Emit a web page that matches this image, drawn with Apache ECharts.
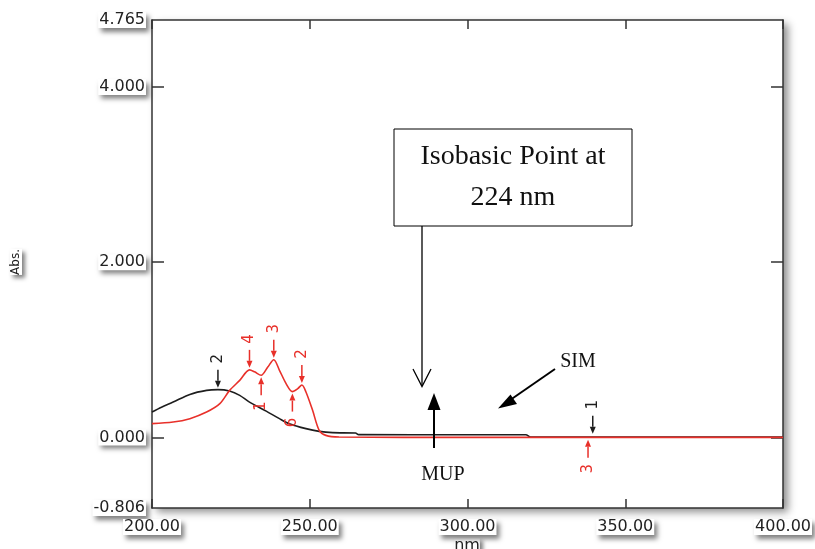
<!DOCTYPE html>
<html>
<head>
<meta charset="utf-8">
<script src="https://cdn.jsdelivr.net/npm/echarts@6.0.0/dist/echarts.min.js"></script>
<style>
  html, body { margin: 0; padding: 0; background: #fff; }
  #chart { width: 815px; height: 549px; }
</style>
</head>
<body>
<div id="chart"></div>
<script>
// black spectrum (nm, Abs)
const simNm = [200, 203, 206.7, 212, 217.3, 220.9, 224.6, 227.8, 230.9, 236.2, 240.4, 243.5, 248.8, 253, 257.2, 264.5, 265.5, 300, 318.5, 320, 360, 400]
const simAbs = [0.29, 0.345, 0.403, 0.491, 0.537, 0.545, 0.529, 0.48, 0.403, 0.30, 0.214, 0.157, 0.10, 0.069, 0.054, 0.05, 0.032, 0.03, 0.03, 0.004, 0.003, 0.003]

// red spectrum (nm, Abs)
const mupNm = [200, 206.7, 212, 217.3, 221.5, 224.6, 227.8, 230.9, 232.5, 234.6, 236.7, 238.6, 240.4, 242.5, 244.5, 246.2, 247.5, 248.8, 250.9, 253, 255.1, 259.3, 300, 400]
const mupAbs = [0.157, 0.175, 0.214, 0.289, 0.385, 0.537, 0.651, 0.771, 0.749, 0.709, 0.803, 0.886, 0.766, 0.614, 0.523, 0.557, 0.598, 0.518, 0.309, 0.08, 0.023, 0.004, 0.0, 0.0]

// peak pick markers: nm, Abs, number, side (-1 above, 1 below)
const simPeakNm = [220.9, 339.7]
const simPeakAbs = [0.545, 0.02]
const simPeakNo = [2, 1]
const simPeakSide = [-1, -1]

const mupPeakNm = [230.9, 234.6, 238.6, 244.5, 247.5, 338.2]
const mupPeakAbs = [0.771, 0.709, 0.886, 0.523, 0.598, -0.005]
const mupPeakNo = [4, 1, 3, 6, 2, 3]
const mupPeakSide = [-1, 1, -1, 1, -1, 1]

const yLabelValues = [-0.806, 0, 2, 4, 4.765]
const yTickValues = [0, 2, 4]

const BLACK = '#1e1e1e'
const RED = '#e8302a'
const FONT = 'DejaVu Sans, Verdana, sans-serif'

const labelBox = {
  color: '#222',
  fontFamily: FONT,
  fontSize: 16,
  backgroundColor: '#fff',
  padding: [0, 1],
  shadowColor: 'rgba(0,0,0,0.5)',
  shadowBlur: 5,
  shadowOffsetX: 3,
  shadowOffsetY: 4
}

const zip = (a, b) => a.map((v, i) => [v, b[i]])
const zip4 = (a, b, c, d) => a.map((v, i) => [v, b[i], c[i], d[i]])

const peakRender = color => (params, api) => {
  const p = api.coord([api.value(0), api.value(1)])
  const s = api.value(3)
  const x = p[0]
  const tip = p[1] + s * 2
  const base = p[1] + s * 9
  const tail = p[1] + s * 20
  return {
    type: 'group',
    children: [
      { type: 'line', shape: { x1: x, y1: tail, x2: x, y2: base }, style: { stroke: color, lineWidth: 1.5 } },
      { type: 'polygon', shape: { points: [[x - 3, base], [x + 3, base], [x, tip]] }, style: { fill: color } },
      {
        type: 'text',
        x: x, y: p[1] + s * 31,
        rotation: Math.PI / 2,
        style: {
          text: String(api.value(2)), fill: color,
          font: '15px ' + FONT,
          align: 'center', verticalAlign: 'middle'
        }
      }
    ]
  }
}

const chart = echarts.init(document.getElementById('chart'))

const axisLine = { onZero: false, lineStyle: { color: '#333', width: 1.5 } }

const option = {
  backgroundColor: '#fff',
  animation: false,
  grid: {
    left: 152, top: 20, width: 634, height: 488,
    show: true,
    backgroundColor: '#fff',
    borderWidth: 0,
    shadowColor: 'rgba(0,0,0,0.45)',
    shadowBlur: 8,
    shadowOffsetX: 5,
    shadowOffsetY: 4
  },
  xAxis: [
    {
      type: 'value', min: 200, max: 400, interval: 50, position: 'bottom',
      axisLine: axisLine,
      axisTick: { inside: true, length: 9, lineStyle: { color: '#333', width: 1.5 } },
      axisLabel: Object.assign({ margin: 11, formatter: v => v.toFixed(2) }, labelBox),
      splitLine: { show: false }
    },
    {
      type: 'value', min: 200, max: 400, interval: 50, position: 'top',
      axisLine: axisLine,
      axisTick: { inside: true, length: 9, lineStyle: { color: '#333', width: 1.5 } },
      axisLabel: { show: false },
      splitLine: { show: false }
    }
  ],
  yAxis: [
    {
      type: 'value', min: -0.806, max: 4.765, position: 'left',
      axisLine: axisLine,
      axisTick: { inside: true, length: 12, customValues: yTickValues, lineStyle: { color: '#333', width: 1.5 } },
      axisLabel: Object.assign({ margin: 6, customValues: yLabelValues, formatter: v => v.toFixed(3) }, labelBox),
      splitLine: { show: false }
    },
    {
      type: 'value', min: -0.806, max: 4.765, position: 'right',
      axisLine: axisLine,
      axisTick: { inside: true, length: 12, customValues: yTickValues, lineStyle: { color: '#333', width: 1.5 } },
      axisLabel: { show: false },
      splitLine: { show: false }
    }
  ],
  series: [
    {
      name: 'SIM', type: 'line', data: zip(simNm, simAbs),
      showSymbol: false, smooth: 0.3,
      lineStyle: { color: BLACK, width: 1.6 }, z: 3
    },
    {
      name: 'MUP', type: 'line', data: zip(mupNm, mupAbs),
      showSymbol: false, smooth: 0.3,
      lineStyle: { color: RED, width: 1.6 }, z: 4
    },
    {
      type: 'custom', data: zip4(simPeakNm, simPeakAbs, simPeakNo, simPeakSide),
      renderItem: peakRender(BLACK), z: 5
    },
    {
      type: 'custom', data: zip4(mupPeakNm, mupPeakAbs, mupPeakNo, mupPeakSide),
      renderItem: peakRender(RED), z: 5
    }
  ],
  graphic: [
    // y axis name
    {
      type: 'text', x: 16, y: 262, rotation: Math.PI / 2,
      style: {
        text: 'Abs.', fill: '#222', font: '12px ' + FONT,
        align: 'center', verticalAlign: 'middle',
        backgroundColor: '#fff', shadowColor: 'rgba(0,0,0,0.5)', shadowBlur: 4, shadowOffsetX: 3, shadowOffsetY: 3
      }
    },
    // x axis name
    {
      type: 'text', x: 467, y: 538,
      style: {
        text: 'nm', fill: '#222', font: '16px ' + FONT,
        align: 'center', verticalAlign: 'top', backgroundColor: '#fff',
        shadowColor: 'rgba(0,0,0,0.5)', shadowBlur: 4, shadowOffsetX: 3, shadowOffsetY: 3
      }
    },
    // isobasic point box
    {
      type: 'rect', shape: { x: 394, y: 129, width: 238, height: 97 },
      style: { fill: '#fff', stroke: '#000', lineWidth: 1 }, z: 10
    },
    {
      type: 'text', x: 513, y: 157, z: 11,
      style: {
        text: 'Isobasic Point at', fill: '#111', font: '28px Liberation Serif, Times New Roman, serif',
        align: 'center', verticalAlign: 'middle'
      }
    },
    {
      type: 'text', x: 513, y: 198, z: 11,
      style: {
        text: '224 nm', fill: '#111', font: '28px Liberation Serif, Times New Roman, serif',
        align: 'center', verticalAlign: 'middle'
      }
    },
    {
      type: 'polyline', z: 10,
      shape: { points: [[422, 226], [422, 386]] }, style: { stroke: '#000', lineWidth: 1.3, fill: null }
    },
    {
      type: 'polyline', z: 10,
      shape: { points: [[413, 369], [422, 386.5], [431, 369]] }, style: { stroke: '#000', lineWidth: 1.3, fill: null }
    },
    // MUP arrow
    {
      type: 'line', z: 10,
      shape: { x1: 434, y1: 448, x2: 434, y2: 405 }, style: { stroke: '#000', lineWidth: 2 }
    },
    {
      type: 'polygon', z: 10,
      shape: { points: [[427.5, 410], [440.5, 410], [434, 393]] }, style: { fill: '#000' }
    },
    {
      type: 'text', x: 443, y: 475, z: 10,
      style: {
        text: 'MUP', fill: '#111', font: '20px Liberation Serif, Times New Roman, serif',
        align: 'center', verticalAlign: 'middle'
      }
    },
    // SIM arrow
    {
      type: 'line', z: 10,
      shape: { x1: 555, y1: 369, x2: 508, y2: 401.5 }, style: { stroke: '#000', lineWidth: 2 }
    },
    {
      type: 'polygon', z: 10,
      shape: { points: [[498, 408.5], [510.5, 394.5], [517, 404]] }, style: { fill: '#000' }
    },
    {
      type: 'text', x: 578, y: 362, z: 10,
      style: {
        text: 'SIM', fill: '#111', font: '20px Liberation Serif, Times New Roman, serif',
        align: 'center', verticalAlign: 'middle'
      }
    }
  ]
}

chart.setOption(option)
</script>
</body>
</html>
